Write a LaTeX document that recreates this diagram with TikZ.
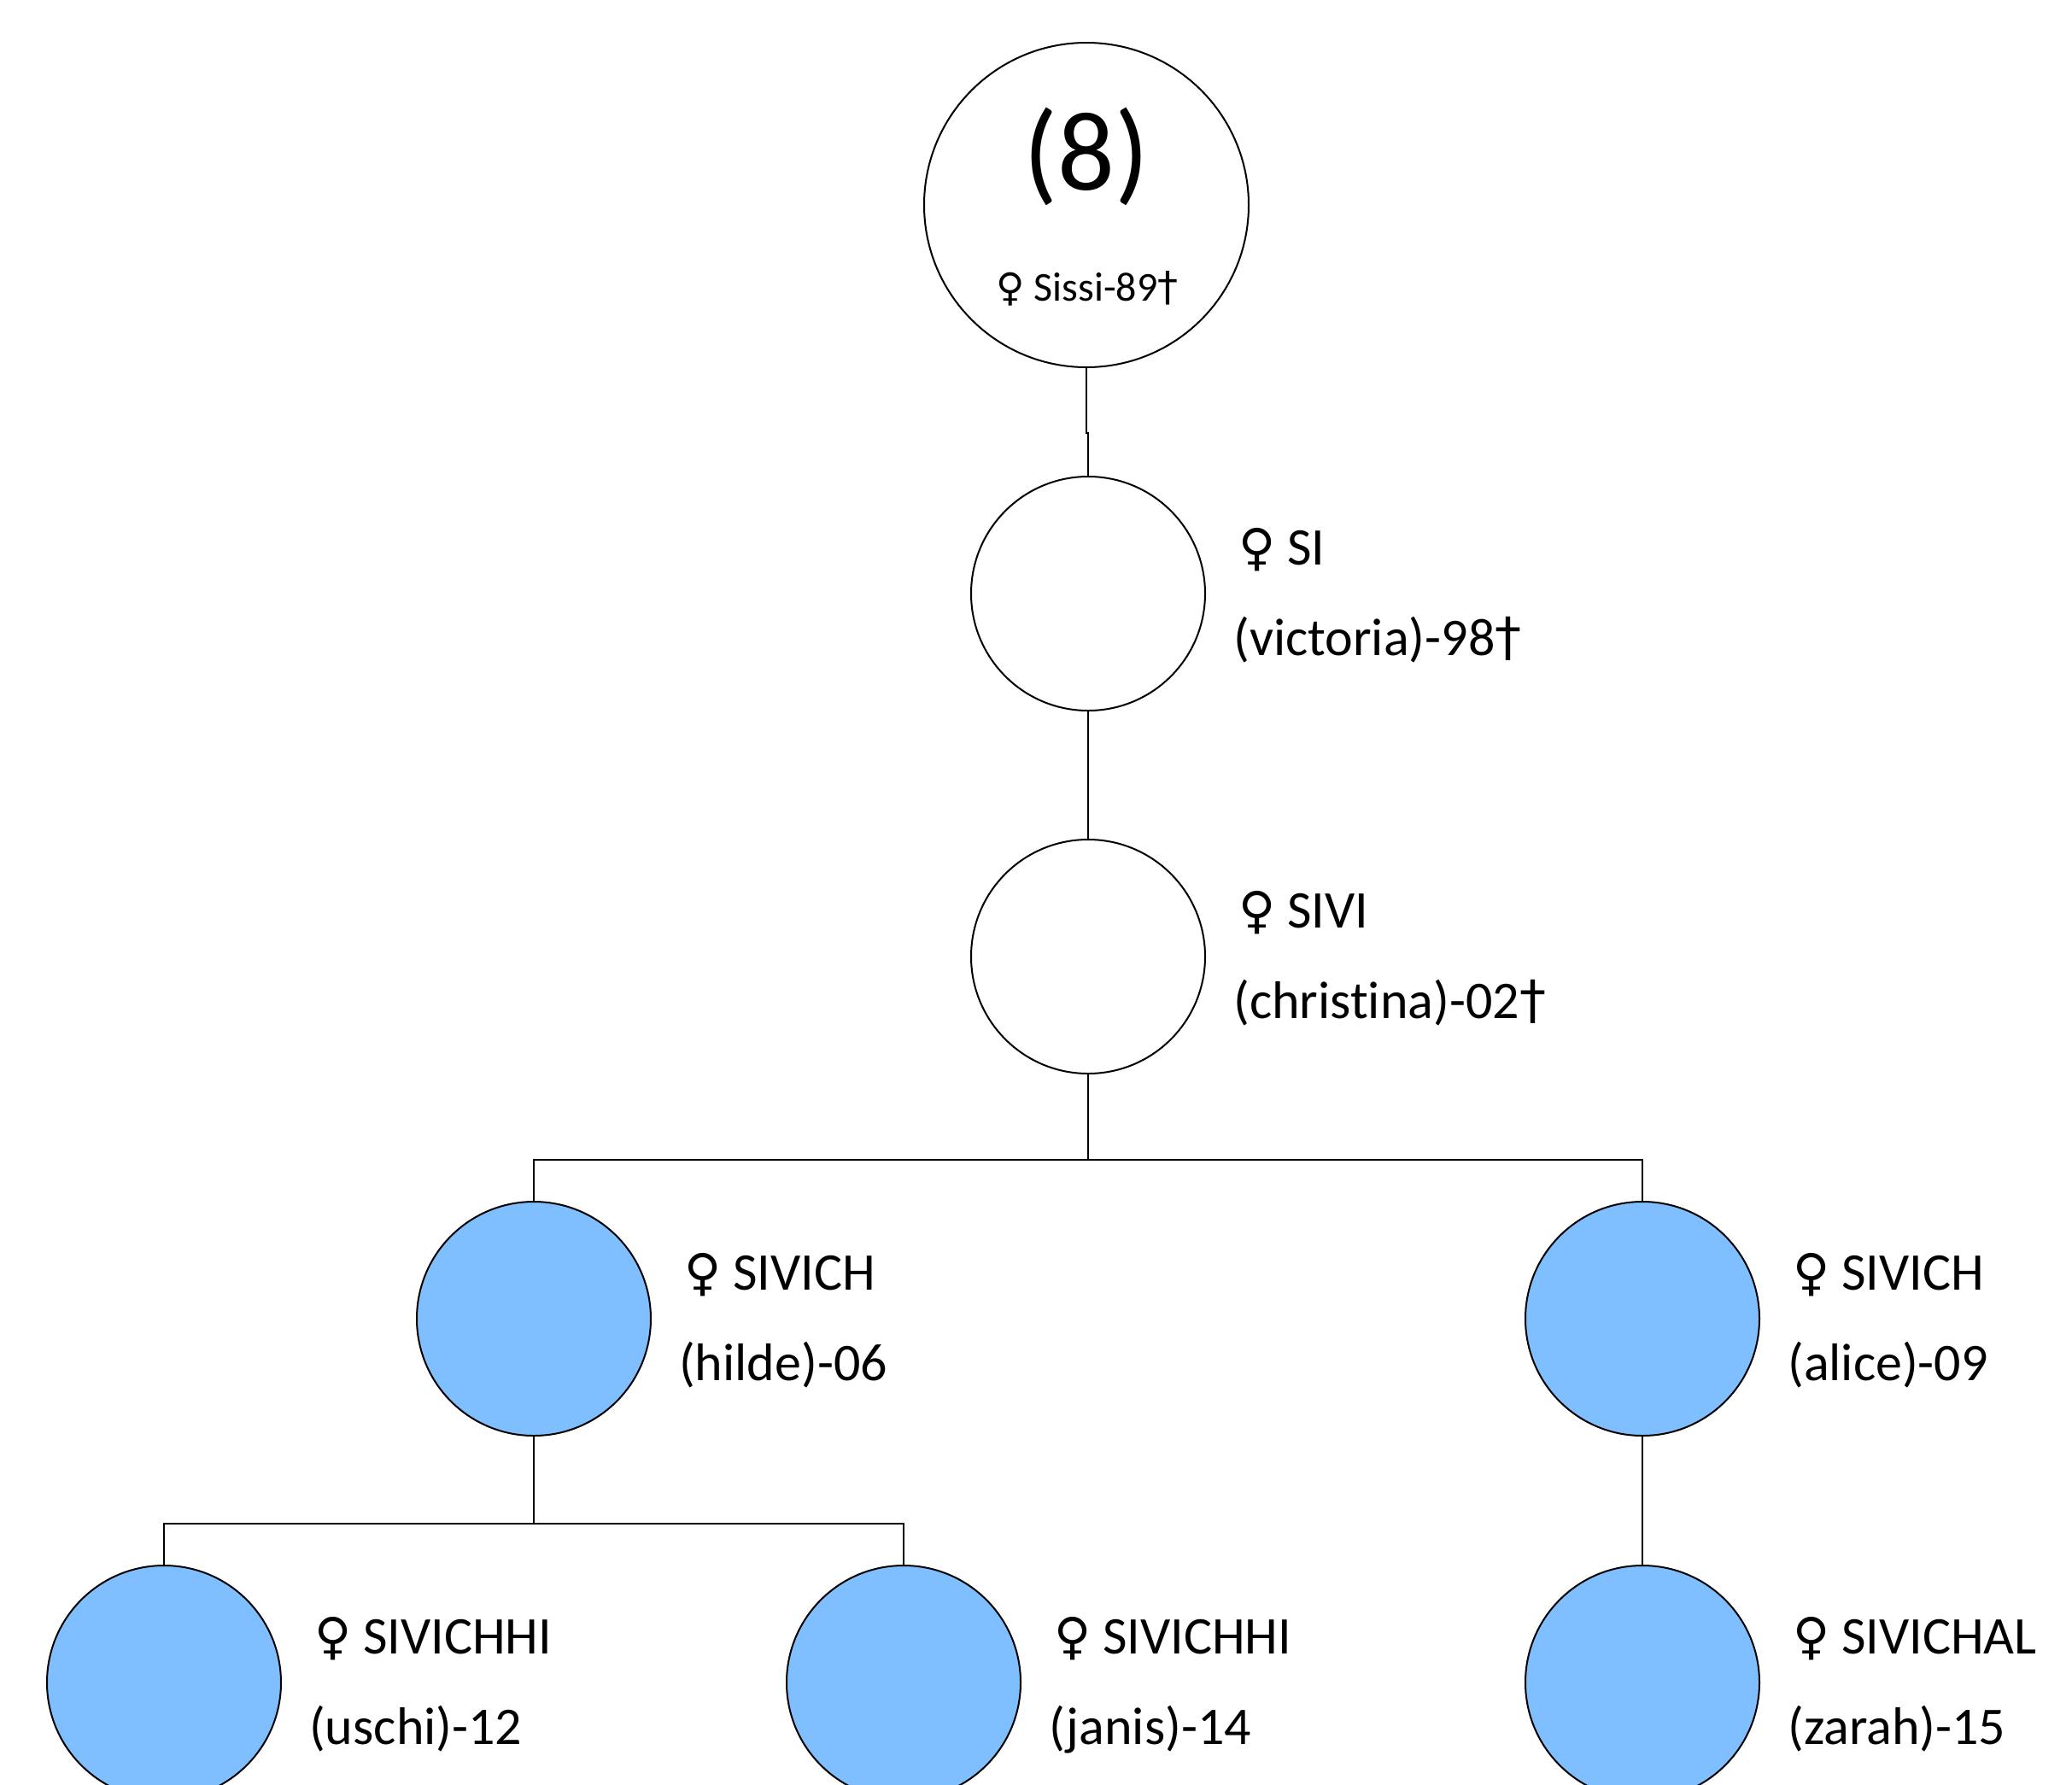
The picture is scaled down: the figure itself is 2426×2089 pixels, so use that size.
\documentclass[tikz,border=0pt]{standalone}
\usepackage{fontspec}
\setmainfont[Ligatures=NoCommon]{Carlito}
\newfontfamily\symfam{DejaVu Sans}
\usetikzlibrary{calc}
\newcommand\fem{{\symfam\scalebox{0.95}{♀}}}
\newcommand\mycross{{\symfam †}}
\definecolor{kidblue}{RGB}{128,191,255}
\begin{document}
\begin{tikzpicture}[x=1pt,y=-1pt,
  person/.style={circle,draw,line width=2pt,minimum size=274pt,inner sep=0pt,fill=white},
  kid/.style={person,fill=kidblue},
  lbl/.style={anchor=base west,inner sep=0pt,font=\fontsize{62}{74}\selectfont},
  conn/.style={line width=2pt}]
\clip (0,0) rectangle (2426,2089);
\fill[white] (0,0) rectangle (2426,2089);
% nodes
\node[person,minimum size=380pt] (c1) at (1272,240) {};
\node[font=\fontsize{132}{150}\selectfont,inner sep=0pt] (t8) at (1272,183) {(8)};
\node[anchor=base,inner sep=0pt,font=\fontsize{48}{56}\selectfont] (tsissi) at (1273,352) {\fem\ Sissi-89\mycross};
\node[person] (c2) at (1274,695) {};
\node[person] (c3) at (1274,1120) {};
\node[kid] (c4a) at (625,1544) {};
\node[kid] (c4b) at (1923,1544) {};
\node[kid] (c5a) at (192,1970) {};
\node[kid] (c5b) at (1058,1970) {};
\node[kid] (c5c) at (1923,1970) {};
% labels
\node[lbl] (l2a) at ($(c2.center)+(176,-34)$) {\fem\ SI};
\node[lbl] (l2b) at ($(c2.center)+(170,72)$) {(victoria)-98\mycross};
\node[lbl] (l3a) at ($(c3.center)+(176,-34)$) {\fem\ SIVI};
\node[lbl] (l3b) at ($(c3.center)+(170,72)$) {(christina)-02\mycross};
\node[lbl] (l4aa) at ($(c4a.center)+(176,-34)$) {\fem\ SIVICH};
\node[lbl] (l4ab) at ($(c4a.center)+(170,72)$) {(hilde)-06};
\node[lbl] (l4ba) at ($(c4b.center)+(176,-34)$) {\fem\ SIVICH};
\node[lbl] (l4bb) at ($(c4b.center)+(170,72)$) {(alice)-09};
\node[lbl] (l5aa) at ($(c5a.center)+(176,-34)$) {\fem\ SIVICHHI};
\node[lbl] (l5ab) at ($(c5a.center)+(170,72)$) {(uschi)-12};
\node[lbl] (l5ba) at ($(c5b.center)+(176,-34)$) {\fem\ SIVICHHI};
\node[lbl] (l5bb) at ($(c5b.center)+(170,72)$) {(janis)-14};
\node[lbl] (l5ca) at ($(c5c.center)+(176,-34)$) {\fem\ SIVICHAL};
\node[lbl] (l5cb) at ($(c5c.center)+(170,72)$) {(zarah)-15};
% connectors
\coordinate (bus1) at (1274,1358);
\coordinate (bus2) at (625,1784);
\draw[conn] (c1.south) -- ++(0,76) -| (c2.north);
\draw[conn] (c2.south) -- (c3.north);
\draw[conn] (c3.south) -- (bus1) -| (c4a.north);
\draw[conn] (bus1) -| (c4b.north);
\draw[conn] (c4a.south) -- (bus2) -| (c5a.north);
\draw[conn] (bus2) -| (c5b.north);
\draw[conn] (c4b.south) -- (c5c.north);
\end{tikzpicture}
\end{document}
